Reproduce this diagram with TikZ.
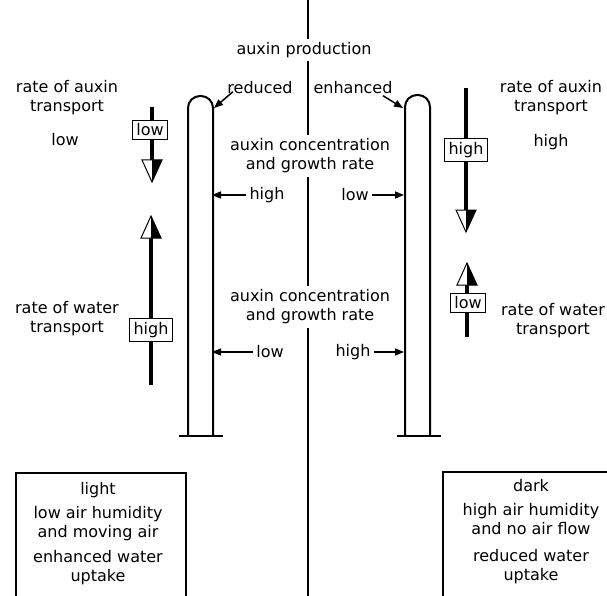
\documentclass[tikz,border=0pt]{standalone}
\usepackage{fontspec}
\setmainfont{DejaVu Sans}
\usetikzlibrary{arrows.meta,calc}
\def \hl{22}
\def \hw{10}

% thick flow arrow: shaft, then half black head
\newcommand\flowarrow[2]{%
  \coordinate (hb) at ($(#2)!\hl pt!(#1)$);
  \draw[line width=4.5pt] (#1) -- (hb);
  \filldraw[fill=white, line width=1pt, line join=miter] (#2) -- ($(hb)+(-\hw,0)$) -- ($(hb)+(\hw,0)$) -- cycle;
  \fill (#2) -- (hb) -- ($(hb)+(\hw,0)$) -- cycle;
}

\begin{document}
\begin{tikzpicture}[x=1pt, y=-1pt, font=\fontsize{16}{19}\selectfont,
    every node/.style={align=center},
    wall/.style={line width=2pt},
    tag/.style={draw, fill=white, line width=1.3pt, inner xsep=4pt, inner ysep=3.5pt},
    pointer/.style={line width=1.5pt, -{Triangle[length=9pt,width=7pt]}}]
  \useasboundingbox (0,0) rectangle (607,596);
  \clip (0,0) rectangle (607,596);

  % middle column
  \coordinate (top) at (308,0);
  \coordinate (bot) at (308,596);
  \node (prod) at (304,50) {auxin production};
  \node (red) at (260,88) {reduced};
  \node (enh) at (353,88) {enhanced};
  \node (conc1) at (310,156) {auxin concentration\\and growth rate};
  \node (hi1) at (267,195) {high};
  \node (lo1) at (355,195) {low};
  \node (conc2) at (310,307) {auxin concentration\\and growth rate};
  \node (lo2) at (270,352) {low};
  \node (hi2) at (353,352) {high};
  \draw[wall] (top) -- (prod.north -| top);
  \draw[wall] (prod.south -| top) -- (conc1.north -| top);
  \draw[wall] (conc1.south -| top) -- (conc2.north -| top);
  \draw[wall] (conc2.south -| top) -- (bot);

  % the two shoots
  \draw[wall, rounded corners=12pt] (188,436) -- (188,96) -- (213,96) -- (213,436);
  \draw[wall] (179,436) -- (223,436);
  \draw[wall, rounded corners=12pt] (405,436) -- (405,95) -- (430,95) -- (430,436);
  \draw[wall] (397,436) -- (441,436);

  \coordinate (lt) at (214,108);
  \coordinate (rt) at (403,108);
  \coordinate (lw1) at (212,195);
  \coordinate (rw1) at (404,195);
  \coordinate (lw2) at (212,352);
  \coordinate (rw2) at (404,352);
  \draw[pointer] ([shift={(9,-6)}]red.south west) -- (lt);
  \draw[pointer] ([shift={(-13,-2)}]enh.south east) -- (rt);
  \draw[pointer] (hi1.west) -- (lw1);
  \draw[pointer] (lo1.east) -- (rw1);
  \draw[pointer] (lo2.west) -- (lw2);
  \draw[pointer] (hi2.east) -- (rw2);

  % left side
  \node (lax) at (67,98) {rate of auxin\\transport};
  \node (laxv) at (65,140) {low};
  \node (lwa) at (67,319) {rate of water\\transport};
  \coordinate (la1) at (152,107);
  \coordinate (la2) at (152,182);
  \coordinate (lb1) at (151,385);
  \coordinate (lb2) at (151,216);
  \flowarrow{la1}{la2}
  \flowarrow{lb1}{lb2}
  \node[tag] (laxt) at (150,130) {low};
  \node[tag] (lwat) at (151,330) {high};

  % right side
  \node (rax) at (551,98) {rate of auxin\\transport};
  \node (raxv) at (551,142) {high};
  \node (rwa) at (553,321) {rate of water\\transport};
  \coordinate (ra1) at (466,88);
  \coordinate (ra2) at (466,232);
  \coordinate (rb1) at (467,337);
  \coordinate (rb2) at (467,263);
  \flowarrow{ra1}{ra2}
  \flowarrow{rb1}{rb2}
  \node[tag] (raxt) at (466,150) {high};
  \node[tag] (rwat) at (468,303) {low};

  % conditions
  \draw[line width=1.5pt] (16,473) rectangle (186,610);
  \node (light) at (98,534) {light\\[5pt]low air humidity\\and moving air\\[6pt]enhanced water\\uptake};
  \draw[line width=1.5pt] (443,472) rectangle (620,610);
  \node (dark) at (531,532) {dark\\[5pt]high air humidity\\and no air flow\\[8pt]reduced water\\uptake};
\end{tikzpicture}
\end{document}
